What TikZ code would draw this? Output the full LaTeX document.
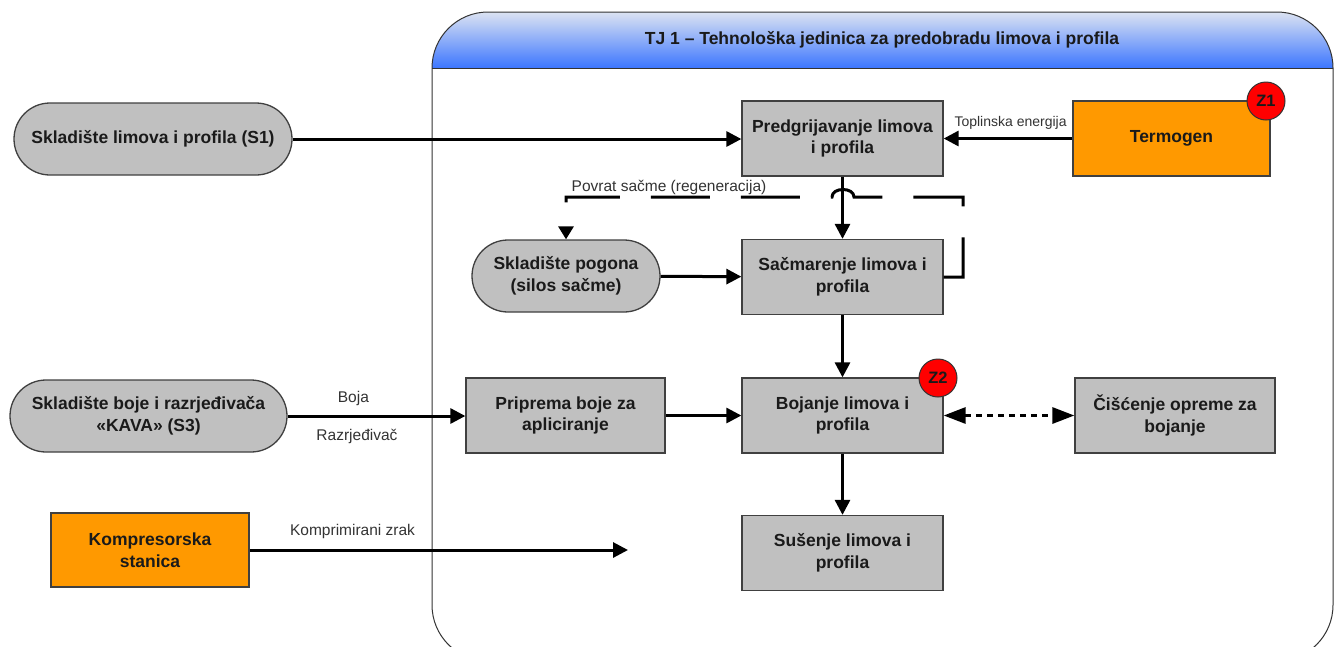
\documentclass[tikz,border=0pt]{standalone}
\usepackage{fontspec}
\setmainfont{Liberation Sans}
\usetikzlibrary{arrows.meta}

\definecolor{boxgray}{HTML}{C0C0C0}
\definecolor{hotorange}{HTML}{FF9900}
\definecolor{zonered}{HTML}{FF0000}
\definecolor{hdrtop}{HTML}{DCE3F2}
\definecolor{hdrbot}{HTML}{3C76FF}
\definecolor{inktext}{HTML}{1A1A1A}

\begin{document}
\begin{tikzpicture}[x=1pt,y=-1pt,
  box/.style={draw=black!75, line width=1.3pt, fill=boxgray, minimum width=201pt,
    minimum height=75pt, inner sep=0pt, align=center, text=inktext,
    font=\bfseries\fontsize{17.5}{21.5}\selectfont},
  pill/.style={box, minimum height=72pt, rounded corners=36pt},
  hot/.style={box, fill=hotorange},
  zone/.style={circle, draw=black!80, line width=1pt, fill=zonered, minimum size=38pt,
    inner sep=0pt, text=inktext, font=\bfseries\fontsize{16.5}{19}\selectfont},
  flow/.style={line width=3pt, draw=black, -{Triangle[length=15pt,width=15pt]}},
  link/.style={line width=3pt, draw=black, dash pattern=on 6pt off 5pt,
    {Triangle[length=22pt,width=16pt]}-{Triangle[length=22pt,width=16pt]}},
  ret/.style={line width=3pt, draw=black, dash pattern=on 59pt off 31pt,
    -{Triangle[length=13pt,width=15pt]}},
  lbl/.style={font=\fontsize{15.5}{18}\selectfont, text=black!80, inner sep=0pt},
  small/.style={font=\fontsize{14}{16}\selectfont, text=black!80, inner sep=0pt}
]
\useasboundingbox (0,0) rectangle (1337,646);

% technological unit frame with its shaded header
\begin{scope}
  \clip (0,0) rectangle (1337,646);
  \fill[white, rounded corners=56pt] (432,12) rectangle (1333,661);
  \begin{scope}
    \clip[rounded corners=56pt] (432,12) rectangle (1333,661);
    \shade[top color=hdrtop, bottom color=hdrbot] (432,12) rectangle (1333,68);
  \end{scope}
  \draw[black!80, line width=1pt] (432,68) -- (1333,68);
  \draw[black!80, line width=1pt, rounded corners=56pt] (432,12) rectangle (1333,661);
\end{scope}
\node[font=\bfseries\fontsize{17.5}{20}\selectfont, text=inktext] (title) at (882,40)
  {TJ 1 – Tehnološka jedinica za predobradu limova i profila};

% process steps and storages
\node[pill, minimum width=278pt] (s1) at (153,139) {Skladište limova i profila (S1)};
\node[box] (pre) at (842.5,138.5) {Predgrijavanje limova\\i profila};
\node[hot, minimum width=197pt] (term) at (1171.5,138.5) {Termogen};
\node[pill, minimum width=188pt] (pog) at (566,276) {Skladište pogona\\(silos sačme)};
\node[box] (sac) at (842.5,277) {Sačmarenje limova i\\profila};
\node[pill, minimum width=277pt] (s3) at (148.5,416) {Skladište boje i razrjeđivača\\«KAVA» (S3)};
\node[box, minimum width=199pt] (pri) at (565.5,415.5) {Priprema boje za\\apliciranje};
\node[box] (boj) at (842.5,415.5) {Bojanje limova i\\profila};
\node[box, minimum width=200pt] (cis) at (1175,415.5) {Čišćenje opreme za\\bojanje};
\node[box] (sus) at (842.5,553) {Sušenje limova i\\profila};
\node[hot, minimum width=198pt, minimum height=74pt] (kom) at (150,550) {Kompresorska\\stanica};
\coordinate (air) at (628,550);

% zone markers
\node[zone] (z1) at (1266,101) {Z1};
\node[zone] (z2) at (938,378) {Z2};

% material and energy flows
\draw[flow] (s1.east) -- (s1.east -| pre.west);
\draw[flow] (term) -- node[small, pos=0.48, yshift=16pt] {Toplinska energija} (pre);
\draw[flow] (pre) -- (sac);
\draw[flow] (pog) -- (sac);
\draw[flow] (sac) -- (boj);
\draw[flow] (s3.east) -- node[lbl, pos=0.37, yshift=18pt] {Boja}
  node[lbl, pos=0.39, yshift=-20pt] {Razrjeđivač} (s3.east -| pri.west);
\draw[flow] (pri) -- (boj);
\draw[flow] (boj) -- (sus);
\draw[link] (boj) -- (cis);
\draw[flow] (kom) -- node[lbl, pos=0.272, yshift=19pt] {Komprimirani zrak} (air);

% shot return loop, hopping over the feed arrow
\draw[ret] (sac.east) -- (963,277) -- (963,197) -- (854,197)
  .. controls (854,187) and (832,187) .. (832,197) -- (566,197) -- (pog.north);
\node[lbl] (povrat) at (669,187) {Povrat sačme (regeneracija)};
\end{tikzpicture}
\end{document}
